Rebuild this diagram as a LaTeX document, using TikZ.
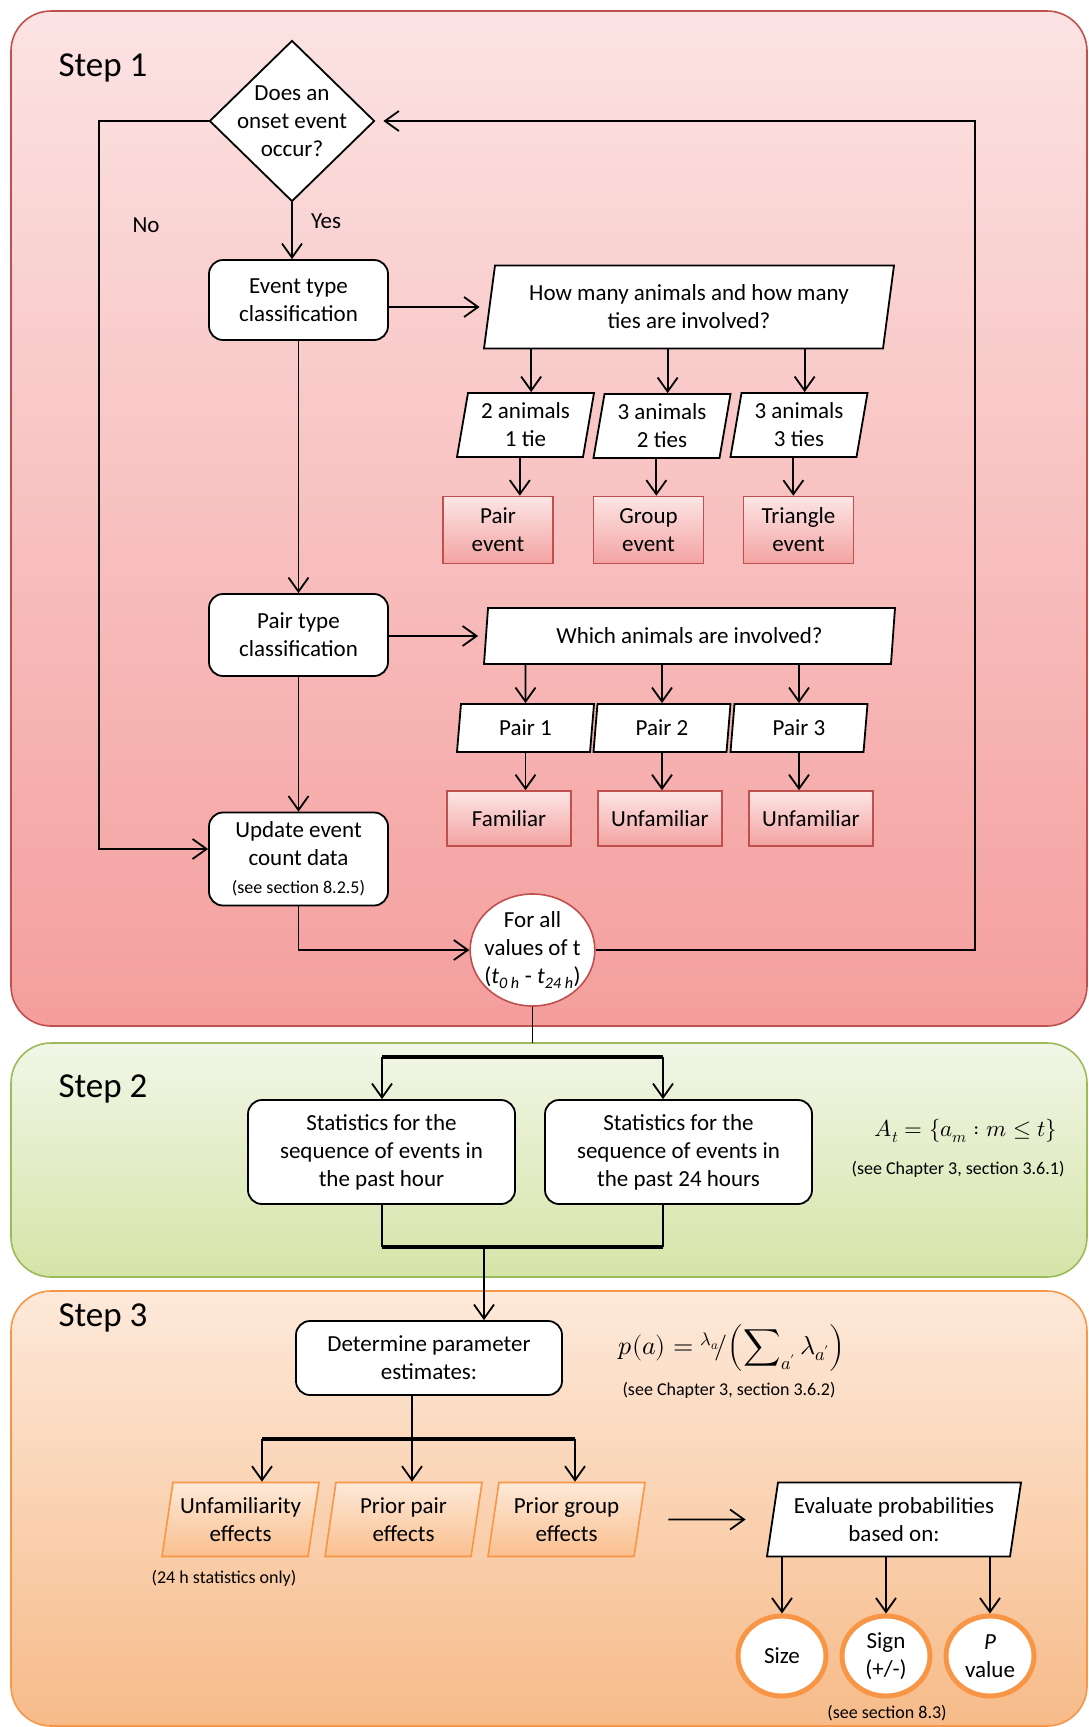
\documentclass[tikz,border=0pt]{standalone}
\usepackage{fontspec}
\usepackage{unicode-math}
\setmainfont{Carlito}
\setmathfont{Latin Modern Math}
\usetikzlibrary{arrows.meta,shapes.geometric}
\definecolor{stepredline}{RGB}{192,80,77}
\definecolor{stepredtop}{RGB}{252,227,227}
\definecolor{stepredbot}{RGB}{244,158,157}
\definecolor{stepgreenline}{RGB}{155,187,89}
\definecolor{stepgreentop}{RGB}{241,246,231}
\definecolor{stepgreenbot}{RGB}{214,228,168}
\definecolor{steporangeline}{RGB}{247,150,70}
\definecolor{steporangetop}{RGB}{253,233,218}
\definecolor{steporangebot}{RGB}{247,187,137}
\definecolor{boxredtop}{RGB}{252,229,229}
\definecolor{boxredbot}{RGB}{243,163,161}
\definecolor{boxorangetop}{RGB}{253,233,216}
\definecolor{boxorangebot}{RGB}{250,191,142}
\newcommand{\flowfont}{\fontsize{23}{28}\selectfont}
\newcommand{\notefont}{\fontsize{18}{22}\selectfont}
\newcommand{\stepfont}{\fontsize{35}{40}\selectfont}
\tikzset{
 panel/.style={line width=1.6pt,rounded corners=40pt},
 conn/.style={line width=1.8pt},
 arr/.style={line width=1.8pt,-{Straight Barb[length=14pt,width=20pt]}},
 forkbar/.style={line width=3.8pt},
 proc/.style={rectangle,rounded corners=14pt,draw,fill=white,line width=1.8pt,align=center,inner sep=0pt,font=\flowfont},
 decision/.style={diamond,draw,fill=white,line width=1.8pt,align=center,inner sep=-8pt,font=\flowfont},
 io/.style={trapezium,trapezium left angle=76,trapezium right angle=104,trapezium stretches body=true,draw,fill=white,line width=1.8pt,align=center,inner sep=0pt,font=\flowfont},
 eventbox/.style={rectangle,draw=stepredline,top color=boxredtop,bottom color=boxredbot,line width=1.6pt,align=center,inner sep=0pt,font=\flowfont},
 effectio/.style={io,draw=steporangeline,top color=boxorangetop,bottom color=boxorangebot,line width=1.6pt},
 loopnode/.style={ellipse,draw=stepredline,fill=white,line width=1.6pt,align=center,inner sep=-4pt,font=\flowfont,minimum width=123pt,minimum height=112pt},
 measure/.style={ellipse,draw=steporangeline,fill=white,line width=5pt,align=center,inner sep=0pt,font=\flowfont,minimum width=88pt,minimum height=80pt},
 note/.style={font=\notefont},
 steplabel/.style={font=\stepfont,anchor=west}
}
\begin{document}
\begin{tikzpicture}[x=1pt,y=-1pt]
\path[use as bounding box] (0,0) rectangle (1088,1727);
% the three step panels
\draw[panel,draw=stepredline,top color=stepredtop,bottom color=stepredbot] (11,11) rectangle (1087,1026);
\draw[panel,draw=stepgreenline,top color=stepgreentop,bottom color=stepgreenbot] (11,1043) rectangle (1087,1277);
\draw[panel,draw=steporangeline,top color=steporangetop,bottom color=steporangebot] (11,1291) rectangle (1087,1726);
\node[steplabel] (st1) at (55,68) {Step 1};
\node[steplabel] (st2) at (55,1089) {Step 2};
\node[steplabel] (st3) at (55,1318) {Step 3};
% step 1
\node[decision,minimum width=165pt,minimum height=161pt] (occ) at (292,121) {Does an\\onset event\\occur?};
\node[font=\flowfont] (no) at (146,225) {No};
\node[font=\flowfont] (yes) at (326,221) {Yes};
\node[proc,minimum width=179pt,minimum height=80pt] (evt) at (298.5,300) {Event type\\classification};
\node[proc,minimum width=179pt,minimum height=82pt] (ptc) at (298.5,635) {Pair type\\classification};
\node[proc,minimum width=179pt,minimum height=93pt] (upd) at (298.5,859) {Update event\\count data\\{\notefont (see section 8.2.5)}};
\node[io,minimum width=410pt,minimum height=83pt] (hm) at (689,307) {How many animals and how many\\ties are involved?};
\node[io,minimum width=137pt,minimum height=64pt] (a21) at (525.5,425) {2 animals\\1 tie};
\node[io,minimum width=137pt,minimum height=64pt] (a32) at (662,426) {3 animals\\2 ties};
\node[io,minimum width=137pt,minimum height=64pt] (a33) at (799,425) {3 animals\\3 ties};
\node[eventbox,minimum width=110pt,minimum height=67pt] (pe) at (498,530) {Pair\\event};
\node[eventbox,minimum width=110pt,minimum height=67pt] (ge) at (648.5,530) {Group\\event};
\node[eventbox,minimum width=110pt,minimum height=67pt] (te) at (798.5,530) {Triangle\\event};
\node[io,minimum width=411pt,minimum height=56pt] (wh) at (689.5,636) {Which animals are involved?};
\node[io,minimum width=137pt,minimum height=48pt] (p1) at (525.5,728) {Pair 1};
\node[io,minimum width=137pt,minimum height=48pt] (p2) at (662,728) {Pair 2};
\node[io,minimum width=137pt,minimum height=48pt] (p3) at (799,728) {Pair 3};
\node[eventbox,minimum width=124pt,minimum height=55pt] (fam) at (509,818.5) {Familiar};
\node[eventbox,minimum width=124pt,minimum height=55pt] (unf1) at (660,818.5) {Unfamiliar};
\node[eventbox,minimum width=124pt,minimum height=55pt] (unf2) at (811,818.5) {Unfamiliar};
\node[loopnode] (fa) at (532.5,950) {For all\\values of t\\(\textit{t}\textsubscript{\textit{0 h}} - \textit{t}\textsubscript{\textit{24 h}})};
\coordinate (noc) at (99,849);
\coordinate (retc) at (975,0);
\draw[arr] (occ.south) -- (occ.south |- evt.north);
\draw[arr] (evt.south) -- (ptc.north);
\draw[arr] (ptc.south) -- (upd.north);
\draw[arr,shorten >=9pt] (evt.east |- hm.west) -- (hm.west);
\draw[arr,shorten >=7pt] (ptc.east |- wh.west) -- (wh.west);
\foreach \n/\m in {a21/pe,a32/ge,a33/te}{
  \draw[arr] (\n.top side |- hm.south) -- (\n.top side);
  \draw[arr] (\n.bottom side) -- (\n.bottom side |- \m.north);
}
\foreach \n/\m in {p1/fam,p2/unf1,p3/unf2}{
  \draw[arr] (\n |- wh.south) -- (\n.north);
  \draw[arr] (\n.south) -- (\n.south |- \m.north);
}
\draw[arr] (occ.west) -| (noc) -- (noc -| upd.west);
\draw[arr] (upd.south) |- (fa.west);
\draw[arr,shorten >=8pt] (fa.east) -- (fa.east -| retc) |- (occ.east);
% step 2
\node[proc,minimum width=267pt,minimum height=104pt] (s1) at (381.5,1152) {Statistics for the\\sequence of events in\\the past hour};
\node[proc,minimum width=267pt,minimum height=104pt] (s2) at (678.5,1152) {Statistics for the\\sequence of events in\\the past 24 hours};
\node[font=\flowfont] (fat) at (966,1131) {$A_t=\{a_m : m\leq t\}$};
\node[note] (nt2) at (958,1169) {(see Chapter 3, section 3.6.1)};
\coordinate (gtop) at (531,1043);
\coordinate (b1) at (382,1057);
\coordinate (b2) at (663,1057);
\coordinate (c1) at (382,1247);
\coordinate (c2) at (663,1247);
\coordinate (c3) at (484,1247);
\draw[conn] (fa.south) -- (fa.south |- gtop);
\draw[forkbar] (b1) -- (b2);
\draw[arr] (b1) -- (b1 |- s1.north);
\draw[arr] (b2) -- (b2 |- s2.north);
\draw[conn] (c1 |- s1.south) -- (c1);
\draw[conn] (c2 |- s2.south) -- (c2);
\draw[forkbar] (c1) -- (c2);
% step 3
\node[proc,minimum width=266pt,minimum height=74pt] (det) at (429,1358) {Determine parameter\\estimates:};
\node[font=\fontsize{26}{30}\selectfont] (pf) at (732,1348) {$\displaystyle p(a)={}^{\lambda_a}\!/\Bigl(\sum\nolimits_{a'}\lambda_{a'}\Bigr)$};
\node[note] (nt3) at (729,1390) {(see Chapter 3, section 3.6.2)};
\node[effectio,minimum width=157pt,minimum height=74pt] (u1) at (240.5,1519.5) {Unfamiliarity\\effects};
\node[effectio,minimum width=157pt,minimum height=74pt] (u2) at (403.5,1519.5) {Prior pair\\effects};
\node[effectio,minimum width=157pt,minimum height=74pt] (u3) at (566.5,1519.5) {Prior group\\effects};
\node[note] (nt4) at (224,1578) {(24 h statistics only)};
\node[io,minimum width=254pt,minimum height=74pt] (ev) at (894,1519.5) {Evaluate probabilities\\based on:};
\node[measure] (sz) at (782,1656) {Size};
\node[measure] (sg) at (886,1656) {Sign\\(+/-)};
\node[measure] (pv) at (990,1656) {\textit{P}\\value};
\node[note] (nt5) at (887,1713) {(see section 8.3)};
\coordinate (d0) at (412,1439);
\coordinate (d1) at (262,1439);
\coordinate (d3) at (575,1439);
\draw[arr] (c3) -- (c3 |- det.north);
\draw[conn] (d0 |- det.south) -- (d0);
\draw[forkbar] (d1) -- (d3);
\foreach \c/\n in {d1/u1,d0/u2,d3/u3}
  \draw[arr] (\c) -- (\c |- \n.north);
\draw[arr] ([xshift=28pt]u3.east) -- ([xshift=-26pt]ev.west);
\foreach \n in {sz,sg,pv}
  \draw[arr] (\n |- ev.south) -- (\n.north);
\end{tikzpicture}
\end{document}
